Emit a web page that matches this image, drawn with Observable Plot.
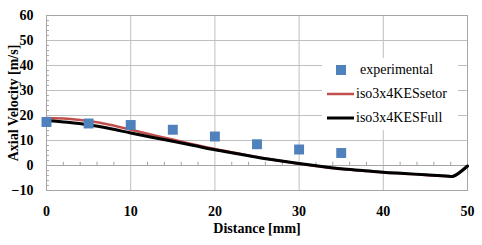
<!DOCTYPE html>
<html><head><meta charset="utf-8">
<script src="https://cdn.jsdelivr.net/npm/d3@7"></script>
<script src="https://cdn.jsdelivr.net/npm/@observablehq/plot@0.6"></script>
<style>
body{margin:0;background:#fff;}
#wrap{position:relative;width:482px;height:245px;}
#wrap svg text{font-family:"Liberation Serif","Times New Roman",Times,"DejaVu Serif",serif !important;}
#legend{position:absolute;background:#fff;font-family:"Liberation Serif","Times New Roman",Times,"DejaVu Serif",serif;font-size:14px;color:#000;}
#legend div{display:flex;align-items:center;height:24px;}
</style>
</head><body>
<div id="wrap"></div>
<script>
const expX = [0,5,10,15,20,25,30,35];
const expY = [17.4,16.8,16.2,14.3,11.6,8.5,6.4,5.0];
const setorX = [0,2.5,5,7.5,10,12.5,15,17.5,20,22.5,25,27.5,30,32.5,35,37.5,40,42.5,45,47.5,48.3,50];
const setorY = [19.0,18.7,17.8,16.3,14.3,12.3,10.4,8.4,6.6,5.0,3.4,2.0,0.7,-0.4,-1.4,-2.1,-2.8,-3.3,-3.8,-4.3,-4.4,-0.3];
const fullX = [0,2.5,5,7.5,10,12.5,15,17.5,20,22.5,25,27.5,30,32.5,35,37.5,40,42.5,45,47.5,48.3,50];
const fullY = [18.0,17.3,16.3,14.8,13.0,11.3,9.7,8.0,6.3,4.8,3.3,2.0,0.8,-0.3,-1.3,-2.0,-2.7,-3.2,-3.7,-4.2,-4.3,-0.2];
const xTicks = [0,10,20,30,40,50];
const yTicks = [-10,0,10,20,30,40,50,60];
const xMinor = d3.range(0,50.01,2).filter(v=>v%10!==0);
const yMinor = d3.range(-10,60.01,2).filter(v=>v%10!==0);
const names = ["experimental","iso3x4KESsetor","iso3x4KESFull"];

const exp = expX.map((x,i)=>({x,y:expY[i]}));
const setor = setorX.map((x,i)=>({x,y:setorY[i]}));
const full = fullX.map((x,i)=>({x,y:fullY[i]}));

const chart = Plot.plot({
  width:482, height:245,
  marginLeft:46, marginRight:15, marginTop:15, marginBottom:55,
  style:{fontFamily:"'Liberation Serif', 'Times New Roman', serif", fontSize:"14px", fontWeight:"bold", color:"#000"},
  x:{domain:[0,50]},
  y:{domain:[-10,60]},
  marks:[
    Plot.gridX(xTicks,{stroke:"#bfbfbf",strokeOpacity:1}),
    Plot.gridY(yTicks,{stroke:"#bfbfbf",strokeOpacity:1}),
    Plot.ruleY([0],{stroke:"#a6a6a6"}),
    Plot.ruleX(xMinor,{y1:0,y2:1.3,stroke:"#a6a6a6"}),
    Plot.ruleY(yMinor,{x1:0,x2:0.35,stroke:"#a6a6a6"}),
    Plot.frame({stroke:"#a6a6a6"}),
    Plot.axisX(xTicks,{tickSize:0,tickPadding:16,fontSize:14,fontWeight:"bold",label:"Distance [mm]",labelAnchor:"center",labelArrow:"none",labelOffset:42}),
    Plot.axisY(yTicks,{tickSize:0,tickPadding:13,fontSize:14,fontWeight:"bold",label:"Axial Velocity [m/s]",labelAnchor:"center",labelArrow:"none",labelOffset:38}),
    Plot.line(setor,{x:"x",y:"y",stroke:"#c0504d",strokeWidth:2.5,curve:"catmull-rom"}),
    Plot.line(full,{x:"x",y:"y",stroke:"#000",strokeWidth:3,curve:"catmull-rom"}),
    Plot.dot(exp,{x:"x",y:"y",symbol:"square",r:5.6,fill:"#4f81bd",stroke:"none"})
  ]
});
const wrap = document.getElementById("wrap");
wrap.appendChild(chart);

const leg = document.createElement("div");
leg.id="legend";
leg.style.left="322px"; leg.style.top="58px"; leg.style.width="134px"; leg.style.paddingLeft="2px";
const sw = [
  '<svg width="32" height="12"><rect x="12" y="1" width="10" height="10" fill="#4f81bd"/></svg>',
  '<svg width="32" height="12"><line x1="3" x2="30" y1="6" y2="6" stroke="#c0504d" stroke-width="2.5"/></svg>',
  '<svg width="32" height="12"><line x1="3" x2="30" y1="6" y2="6" stroke="#000" stroke-width="3"/></svg>'
];
leg.innerHTML = names.map((n,i)=>`<div>${sw[i]}<span style="margin-left:${i===0?4:0}px">${n}</span></div>`).join("");
wrap.appendChild(leg);
</script>
</body></html>
